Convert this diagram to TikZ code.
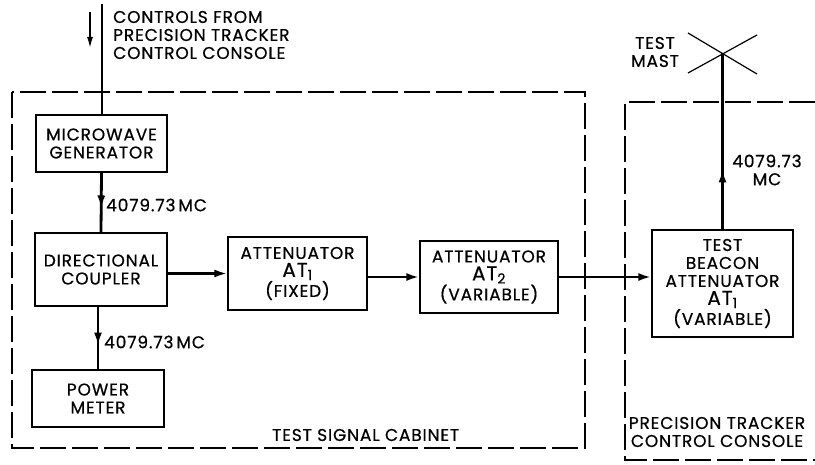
\documentclass[tikz,border=0pt]{standalone}
\usepackage{fontspec}
\setmainfont{Poppins}[LetterSpace=5,FakeBold=0.6]
\usetikzlibrary{arrows.meta,decorations.markings}
\newcommand{\lbl}{\fontsize{17}{18}\selectfont}
\newcommand{\bigat}{\fontsize{20}{18}\selectfont}
\tikzset{
  box/.style={draw, line width=1.2pt, inner sep=0pt, align=center, font=\lbl},
  sig/.style={line width=2.8pt},
  dashbox/.style={line width=1.1pt, dash pattern=on 26pt off 6pt},
  tip/.style={-{Latex[length=13pt,width=8pt]}},
  midarrow/.style={postaction={decorate}, decoration={markings, mark=at position #1 with {\arrow{Latex[length=13pt,width=8pt]}}}},
  txt/.style={inner sep=0pt, align=center, font=\lbl},
}
\begin{document}
\begin{tikzpicture}[x=1pt,y=-1pt]
\useasboundingbox (0,0) rectangle (815,465);
% dashed enclosures
\draw[dashbox] (12,92) rectangle (585,448);
\draw[dashbox] (815,102) -- (625,102) -- (625,460) -- (815,460);
% boxes
\node[box, minimum width=131pt, minimum height=57pt] (mg) at (101.5,143.5) {MICROWAVE\\GENERATOR};
\node[box, minimum width=132pt, minimum height=73pt] (dc) at (101,269.5) {DIRECTIONAL\\COUPLER};
\node[box, minimum width=139pt, minimum height=73pt] (at1) at (297.5,273.5) {ATTENUATOR\\{\bigat AT\textsubscript{1}}\\(FIXED)};
\node[box, minimum width=138pt, minimum height=72pt] (at2) at (489,277) {ATTENUATOR\\{\bigat AT\textsubscript{2}}\\(VARIABLE)};
\node[box, minimum width=141pt, minimum height=107pt] (tb) at (722.5,283.5) {TEST\\BEACON\\ATTENUATOR\\{\bigat AT\textsubscript{1}}\\(VARIABLE)};
\node[box, minimum width=132pt, minimum height=57pt] (pm) at (98,398.5) {POWER\\METER};
% control input
\coordinate (ctop) at (102,4);
\draw[sig] (ctop) -- (ctop |- mg.north);
\coordinate (ca) at (90,12);
\coordinate (cb) at (90,48);
\draw[line width=1.4pt, -{Latex[length=11pt,width=6pt]}] (ca) -- (cb);
\node[txt, anchor=west, align=left] (ctl) at (113,35) {CONTROLS FROM\\PRECISION TRACKER\\CONTROL CONSOLE};
% signal path
\draw[sig, midarrow=0.6] (mg.south) -- (dc.north);
\node[txt, anchor=west] (f1) at (106,205) {4079.73\,MC};
\draw[sig, midarrow=0.62] (pm.north |- dc.south) -- (pm.north);
\node[txt, anchor=west] (f2) at (104,342) {4079.73\,MC};
\draw[sig, tip] (at1.west -| dc.east) -- (at1.west);
\draw[sig, tip] (at2.west -| at1.east) -- (at2.west);
\draw[sig, tip] (at2.east) -- (at2.east -| tb.west);
% test mast
\coordinate (mast) at (722,53);
\coordinate (m1) at (688,33);
\coordinate (m2) at (757,74);
\coordinate (m3) at (688,73);
\coordinate (m4) at (757,35);
\draw[line width=1.2pt] (m1) -- (m2);
\draw[line width=1.2pt] (m3) -- (m4);
\draw[sig, midarrow=0.34] (tb.north) -- (tb.north |- mast);
\node[txt] (ml) at (655,52) {TEST\\MAST};
\node[txt] (f3) at (767,170) {4079.73\\MC};
% enclosure labels
\node[txt, anchor=west] (cab) at (272,435) {TEST SIGNAL CABINET};
\node[txt] (con) at (717,432) {PRECISION TRACKER\\CONTROL CONSOLE};
\end{tikzpicture}
\end{document}
